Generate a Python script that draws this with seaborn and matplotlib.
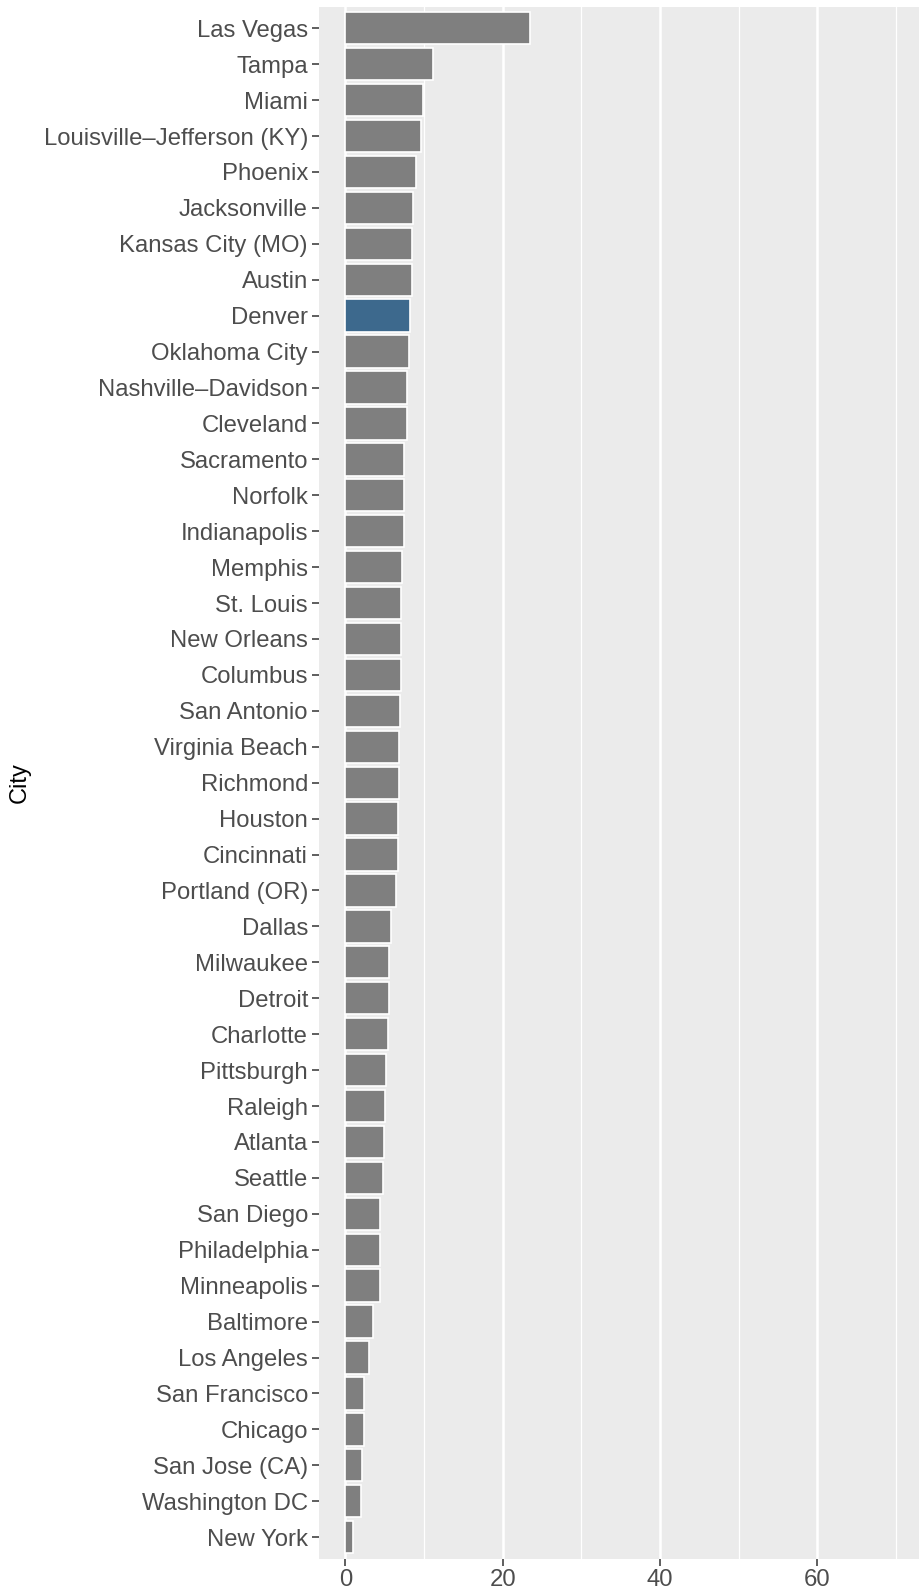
import pandas as pd
import seaborn as sns
import matplotlib.pyplot as plt
import numpy as np

# cities from top to bottom
cities = ['Las Vegas', 'Tampa', 'Miami', 'Louisville\u2013Jefferson (KY)', 'Phoenix',
          'Jacksonville', 'Kansas City (MO)', 'Austin', 'Denver', 'Oklahoma City',
          'Nashville\u2013Davidson', 'Cleveland', 'Sacramento', 'Norfolk', 'Indianapolis',
          'Memphis', 'St. Louis', 'New Orleans', 'Columbus', 'San Antonio',
          'Virginia Beach', 'Richmond', 'Houston', 'Cincinnati', 'Portland (OR)',
          'Dallas', 'Milwaukee', 'Detroit', 'Charlotte', 'Pittsburgh', 'Raleigh',
          'Atlanta', 'Seattle', 'San Diego', 'Philadelphia', 'Minneapolis',
          'Baltimore', 'Los Angeles', 'San Francisco', 'Chicago', 'San Jose (CA)',
          'Washington DC', 'New York']
values = [23.5, 11.1, 9.9, 9.6, 9.0,
          8.6, 8.5, 8.5, 8.26, 8.13,
          7.88, 7.88, 7.5, 7.5, 7.5,
          7.24, 7.1, 7.1, 7.1, 6.99,
          6.86, 6.86, 6.73, 6.73, 6.48,
          5.85, 5.59, 5.59, 5.46, 5.21, 5.08,
          4.96, 4.83, 4.45, 4.45, 4.42,
          3.52, 3.01, 2.36, 2.36, 2.11,
          2.01, 0.95]
highlight = 'Denver'
x_ticks = [0, 20, 40, 60]
x_minor = [10, 30, 50, 70]

df = pd.DataFrame({'City': cities, 'value': values})
df['hl'] = np.where(df['City'] == highlight, 'yes', 'no')

#%%
plt.rcParams['font.family'] = ['Liberation Sans', 'DejaVu Sans']
fig = plt.figure(figsize=(9.19, 15.91), dpi=100)
ax = fig.add_axes([318.6 / 919, 1 - 1558.7 / 1591, 1 - 318.6 / 919, (1558.7 - 6.7) / 1591])

sns.barplot(data=df, x='value', y='City', hue='hl', order=cities,
            palette={'yes': '#306A9A', 'no': '#7F7F7F'}, dodge=False,
            width=0.9, edgecolor='white', linewidth=1.2, legend=False, ax=ax, zorder=3)

ax.set_facecolor('#EBEBEB')
for s in ax.spines.values():
    s.set_visible(False)
ax.set_xlim(-3.4, 72.9)
ax.set_ylim(len(cities) - 0.4, -0.6)
ax.set_xticks(x_ticks)
ax.set_xticks(x_minor, minor=True)
ax.xaxis.grid(True, which='major', color='white', linewidth=1.8, zorder=0)
ax.xaxis.grid(True, which='minor', color='white', linewidth=0.9, zorder=0)
ax.set_axisbelow(True)
ax.tick_params(axis='both', which='major', length=4.7, width=1.1, color='#333333',
               labelsize=17.2, labelcolor='#4D4D4D', pad=3)
ax.tick_params(axis='x', which='minor', length=0)
ax.set_xlabel('')
ax.set_ylabel('City', fontsize=17, color='black')
ax.yaxis.set_label_coords(-(318.6 - 31) / (919 - 318.6), 0.5)

plt.savefig('out.png', dpi=100)
